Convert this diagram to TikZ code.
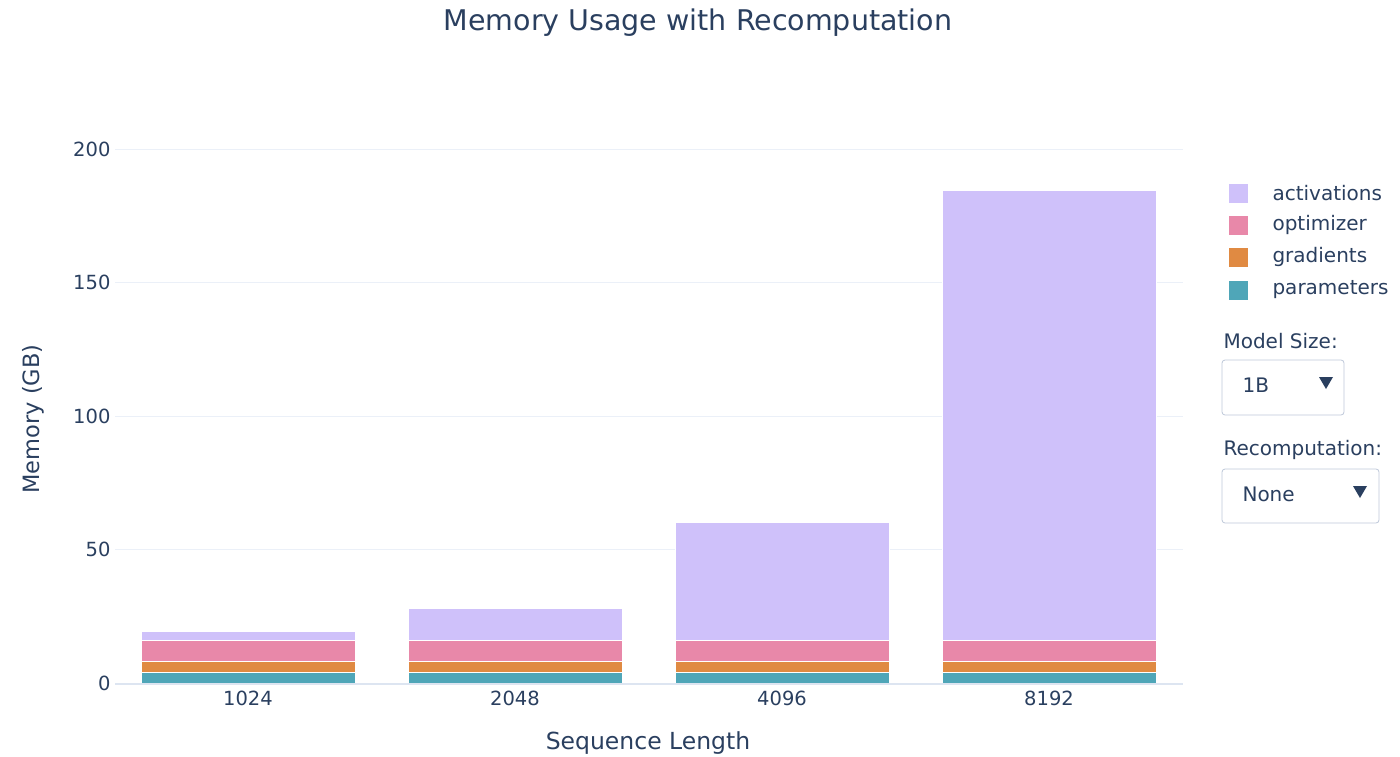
\documentclass[tikz,border=0pt]{standalone}
\usepackage{fontspec}
\setmainfont{DejaVu Sans}
\usepackage{xcolor}
\usepackage{tikz}
\usetikzlibrary{positioning}

\definecolor{txt}{HTML}{2A3F5F}
\definecolor{gridc}{HTML}{EBF0F8}
\definecolor{zeroc}{HTML}{DDE5F1}
\definecolor{actc}{HTML}{CFC1FA}
\definecolor{optc}{HTML}{E888A9}
\definecolor{gradc}{HTML}{E08A42}
\definecolor{parc}{HTML}{4FA6B8}
\definecolor{boxc}{HTML}{BEC8D9}

\tikzset{
    seg/.style={draw=white, line width=0.8pt},
    tick/.style={text=txt, font=\fontsize{19.5}{22}\selectfont},
    leg/.style={text=txt, font=\fontsize{20}{24}\selectfont, anchor=west},
    swatch/.style={minimum width=19pt, minimum height=19pt, inner sep=0pt},
    menu/.style={draw=boxc, rounded corners=3pt, line width=0.8pt, fill=white}
}

\begin{document}
\begin{tikzpicture}[x=1pt, y=-1pt]
        \useasboundingbox (0,0) rectangle (1400,757);

        % Titolo e assi
        \node[text=txt, font=\fontsize{28.5}{32}\selectfont] (title) at (698,23) {Memory Usage with Recomputation};
        \node[text=txt, font=\fontsize{23.5}{27}\selectfont] (xlab) at (648,743) {Sequence Length};
        \node[text=txt, font=\fontsize{22.5}{26}\selectfont, rotate=90] (ylab) at (33,419) {Memory (GB)};

        % Griglia
        \foreach \v in {50,100,150,200} {
            \draw[gridc, line width=1pt] (115,683-2.67*\v) -- (1183,683-2.67*\v);
            \node[tick, anchor=east] at (114,683-2.67*\v) {\v};
        }
        \node[tick, anchor=east] (y0) at (114,683) {0};

        % Barre
        \foreach \xl/\top/\lab in {141/19.2/1024, 408/28/2048, 675/60/4096, 942/184.5/8192} {
            \filldraw[seg, fill=parc] (\xl,683) rectangle (\xl+214,683-2.67*4);
            \filldraw[seg, fill=gradc] (\xl,683-2.67*4) rectangle (\xl+214,683-2.67*8);
            \filldraw[seg, fill=optc] (\xl,683-2.67*8) rectangle (\xl+214,683-2.67*16);
            \filldraw[seg, fill=actc] (\xl,683-2.67*16) rectangle (\xl+214,683-2.67*\top);
            \node[tick] at (\xl+107,698) {\lab};
        }
        \draw[zeroc, line width=2pt] (115,684) -- (1183,684);

        % Legenda
        \node[swatch, fill=actc] (ka) at (1238,193) {};
        \node[swatch, fill=optc] (ko) at (1238,225) {};
        \node[swatch, fill=gradc] (kg) at (1238,257) {};
        \node[swatch, fill=parc] (kp) at (1238,290) {};
        \node[leg] at (1269,193) {activations};
        \node[leg] at (1269,225) {optimizer};
        \node[leg] at (1269,257) {gradients};
        \node[leg] at (1269,290) {parameters};

        % Menu
        \node[leg] (ms) at (1220,341) {Model Size:};
        \draw[menu] (1222,360) rectangle (1344,415);
        \node[leg] (mv) at (1239,385) {1B};
        \fill[txt] (1319,377) -- (1333,377) -- (1326,389) -- cycle;

        \node[leg] (rc) at (1220,450) {Recomputation:};
        \draw[menu] (1222,469) rectangle (1379,523);
        \node[leg] (rv) at (1239,494) {None};
        \fill[txt] (1353,486) -- (1367,486) -- (1360,498) -- cycle;
\end{tikzpicture}
\end{document}
